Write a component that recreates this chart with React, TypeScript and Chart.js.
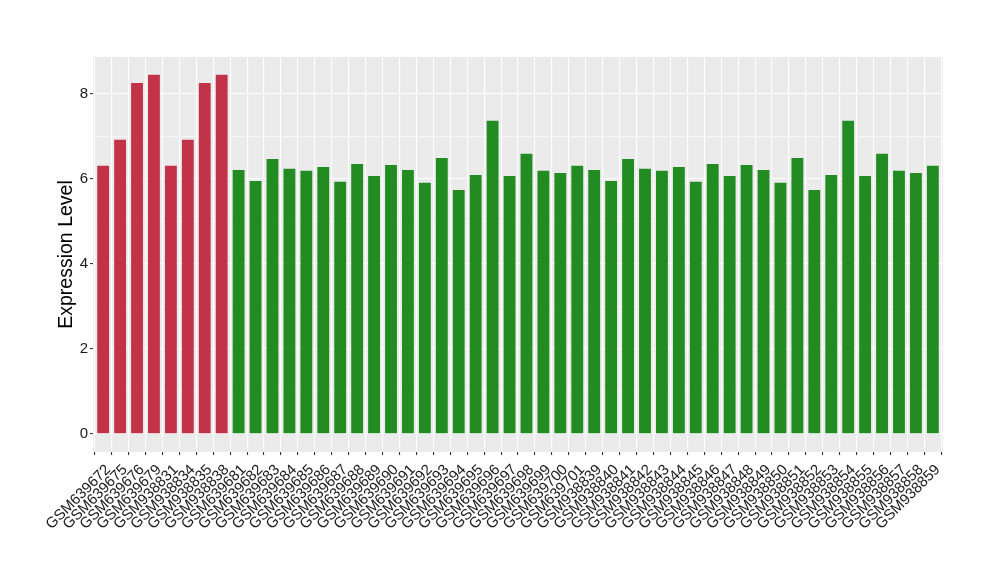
import React, { useEffect, useRef } from "react";
import { Chart, registerables } from "chart.js";

Chart.register(...registerables);

const samples: string[] = [
  "GSM639672", "GSM639675", "GSM639676", "GSM639679", "GSM938831", "GSM938834", "GSM938835", "GSM938838",
  "GSM639681", "GSM639682", "GSM639683", "GSM639684", "GSM639685", "GSM639686", "GSM639687", "GSM639688",
  "GSM639689", "GSM639690", "GSM639691", "GSM639692", "GSM639693", "GSM639694", "GSM639695", "GSM639696",
  "GSM639697", "GSM639698", "GSM639699", "GSM639700", "GSM639701",
  "GSM938839", "GSM938840", "GSM938841", "GSM938842", "GSM938843", "GSM938844", "GSM938845", "GSM938846",
  "GSM938847", "GSM938848", "GSM938849", "GSM938850", "GSM938851", "GSM938852", "GSM938853", "GSM938854",
  "GSM938855", "GSM938856", "GSM938857", "GSM938858", "GSM938859",
];

const expression: number[] = [
  6.31, 6.92, 8.26, 8.45, 6.31, 6.92, 8.26, 8.45,
  6.21, 5.95, 6.47, 6.24, 6.19, 6.28, 5.93, 6.35,
  6.07, 6.33, 6.21, 5.91, 6.49, 5.74, 6.09, 7.37,
  6.07, 6.59, 6.19, 6.14, 6.31,
  6.21, 5.95, 6.47, 6.24, 6.19, 6.28, 5.93, 6.35,
  6.07, 6.33, 6.21, 5.91, 6.49, 5.74, 6.09, 7.37,
  6.07, 6.59, 6.19, 6.14, 6.31,
];

const groups: string[] = [
  "A", "A", "A", "A", "A", "A", "A", "A",
  "B", "B", "B", "B", "B", "B", "B", "B", "B", "B", "B", "B", "B", "B", "B", "B", "B", "B", "B", "B", "B",
  "B", "B", "B", "B", "B", "B", "B", "B", "B", "B", "B", "B", "B", "B", "B", "B", "B", "B", "B", "B", "B",
];

const groupColors: Record<string, string> = { A: "#C23249", B: "#228B22" };

const yTicks: number[] = [0, 2, 4, 6, 8];

const FONT = "'Liberation Sans', Arial, Helvetica, sans-serif";

const panelBg = {
  id: "panelBg",
  beforeDraw(chart: any) {
    const { ctx, chartArea } = chart;
    if (!chartArea) return;
    ctx.save();
    ctx.fillStyle = "#EBEBEB";
    ctx.fillRect(chartArea.left, chartArea.top, chartArea.right - chartArea.left, chartArea.bottom - chartArea.top);
    ctx.restore();
  },
};

export default function App() {
  const ref = useRef<HTMLCanvasElement | null>(null);

  useEffect(() => {
    if (!ref.current) return;
    const chart = new Chart(ref.current, {
      type: "bar",
      data: {
        datasets: [
          {
            data: expression.map((v, i) => ({ x: i, y: v })),
            backgroundColor: groups.map((g) => groupColors[g]),
            borderWidth: 0,
            barPercentage: 0.7,
            categoryPercentage: 1,
          } as any,
        ],
      },
      options: {
        animation: false,
        responsive: false,
        maintainAspectRatio: false,
        layout: { padding: { left: 0, top: 57, right: 57, bottom: 0 } },
        plugins: {
          legend: { display: false },
          tooltip: { enabled: false },
        },
        scales: {
          x: {
            type: "linear",
            min: -0.6,
            max: 49.6,
            offset: false,
            border: { display: false },
            grid: {
              color: "#FFFFFF",
              lineWidth: 1.1,
              tickColor: "#333333",
              tickLength: 3,
              drawOnChartArea: true,
            },
            ticks: {
              stepSize: 1,
              includeBounds: false,
              autoSkip: false,
              maxTicksLimit: 100,
              minRotation: 45,
              maxRotation: 45,
              padding: 6,
              labelOffset: 5,
              color: "#1A1A1A",
              font: { family: FONT, size: 15 },
              callback: (v: any) => samples[v as number] ?? "",
            },
            afterBuildTicks: (scale: any) => {
              scale.ticks = scale.ticks.filter(
                (t: any) => Number.isInteger(t.value) && t.value >= 0 && t.value < samples.length
              );
            },
            afterFit: (scale: any) => {
              scale.height = 128;
            },
          } as any,
          y: {
            type: "linear",
            min: -0.43,
            max: 8.87,
            border: { display: false },
            grid: {
              color: "#FFFFFF",
              lineWidth: (ctx: any) => (ctx.tick && yTicks.includes(ctx.tick.value) ? 1.1 : 0.55),
              tickColor: (ctx: any) => (ctx.tick && yTicks.includes(ctx.tick.value) ? "#333333" : "rgba(0,0,0,0)"),
              tickLength: 3,
            },
            ticks: {
              stepSize: 1,
              includeBounds: false,
              padding: 2,
              color: "#1A1A1A",
              font: { family: FONT, size: 15 },
              callback: (v: any) => (yTicks.includes(v as number) ? String(v) : ""),
            },
            afterBuildTicks: (scale: any) => {
              scale.ticks = scale.ticks.filter(
                (t: any) => Number.isInteger(t.value) && t.value >= 0 && t.value <= 8
              );
            },
            title: {
              display: true,
              text: "Expression Level",
              color: "#000000",
              font: { family: FONT, size: 19.5 },
              padding: { top: 55, bottom: 0 },
            },
            afterFit: (scale: any) => {
              scale.width = 93;
            },
          } as any,
        },
      },
      plugins: [panelBg],
    });
    return () => chart.destroy();
  }, []);

  return (
    <div style={{ position: "fixed", left: 0, top: 0, width: 1000, height: 580, background: "#FFFFFF" }}>
      <canvas ref={ref} width={1000} height={580} style={{ width: 1000, height: 580, display: "block" }} />
    </div>
  );
}
